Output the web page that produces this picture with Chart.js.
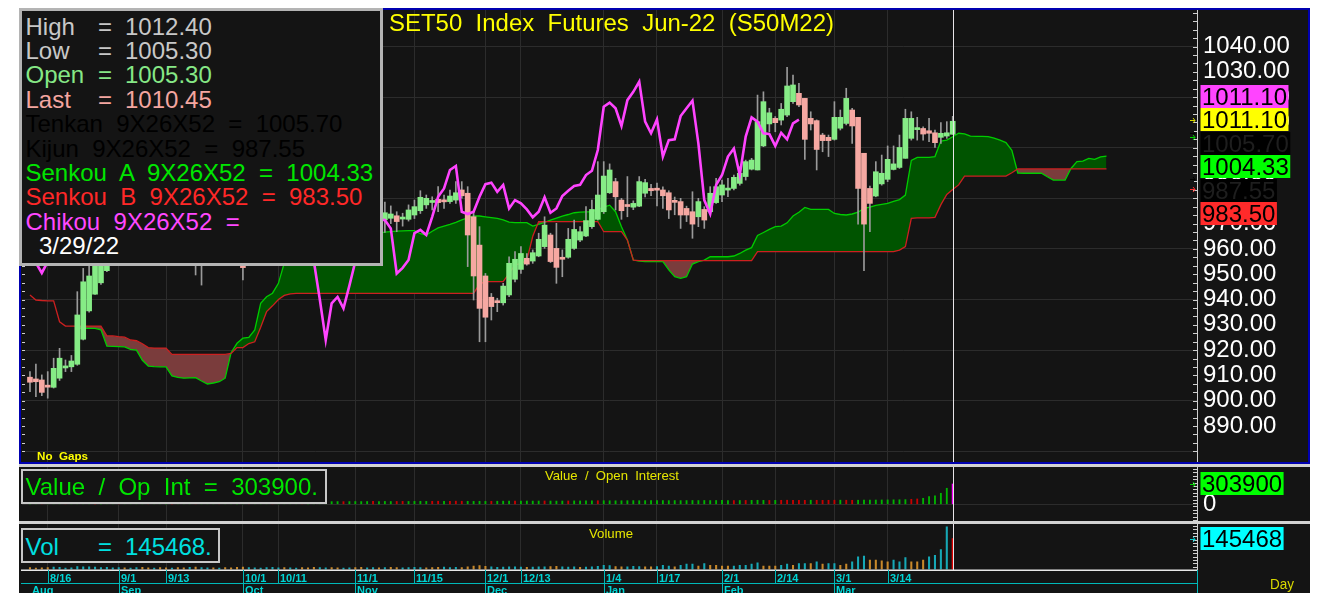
<!DOCTYPE html>
<html>
<head>
<meta charset="utf-8">
<title>SET50 Index Futures Jun-22 (S50M22)</title>
<script src="https://cdn.jsdelivr.net/npm/chart.js@4.4.1/dist/chart.umd.min.js"></script>
<style>
  html, body { margin:0; padding:0; width:1322px; height:593px; overflow:hidden; background:#ffffff; }
  #bg { position:absolute; left:19px; top:8px; width:1291px; height:585px; background:#141414; }
  canvas { position:absolute; left:0; }
  .ln { position:absolute; }
  .t { position:absolute; white-space:pre; line-height:1; font-family:'Liberation Sans', Arial, Helvetica, sans-serif; }
  .box { position:absolute; box-sizing:border-box; background:#141414; }
</style>
</head>
<body>
<div id="bg"></div>
<canvas id="cMain" width="1322" height="464" style="top:0px"></canvas>
<canvas id="cOI" width="1322" height="56" style="top:466px"></canvas>
<canvas id="cVol" width="1322" height="70" style="top:523px"></canvas>
<script>
// ---------------- DATA ----------------
// daily bars, index 0 = 10 Aug 2021 ... index 156 = 29 Mar 2022
const openP = [
 909.3,908.6,908.2,906.1,905.3,908.9,913.0,913.4,914.4,924.3,
 935.5,942.1,946.6,951.4,963,966,970,968,973,976,
 972,968,971,965,962,965,961,958,960,955,
 959,964,962,966,963,958,956,955,960,964,
 968,973,976,980,977,979,983,980,977,972,
 974,977,975,971,973,975,972,969,971,973,
 971.5,972.1,973.1,972.1,971.7,973.4,975.1,977.4,978.6,979.6,
 979.3,978.7,979.3,983.3,982.0,972.7,961.5,949.3,940.9,939.5,
 938.7,941.8,948.0,951.9,956.3,955.2,957.2,960.9,965.5,960.2,
 956.7,956.7,960.2,963.5,965.1,968.8,971.7,974.7,982.2,986.6,
 979.3,977.4,976.5,976.9,982.0,983.9,983.9,983.3,982.2,978.9,
 978.7,976.0,974.7,972.7,975.6,974.7,978.3,981.3,983.5,983.9,
 985.9,988.6,991.5,991.2,1000.7,1009.4,1011.6,1010.9,1012.9,1018.2,
 1021.5,1019.5,1011.6,1010.7,1005.0,1004.1,1003.3,1007.7,1009.6,1014.9,
 1012.0,997.8,983.9,980.9,985.7,987.5,991.4,992.2,995.8,1003.7,
 1007.4,1007.6,1006.7,1005.9,1004.1,1004.6,1005.3];
const highP = [
 911.5,914.5,910.2,911.5,916.8,920.7,916.1,917.9,943.1,952.3,
 955.0,958,962,966,968,972,974,975,978,979,
 975,973,974,969,967,968,965,962,963,961,
 966,968,967,970,965,962,960,961,966,970,
 975,978,982,984,981,985,986,983,980,976,
 979,981,978,975,977,979,975,973,975,976,
 978.5,977.0,974.7,974.1,977.4,979.3,983.0,981.3,980.6,984.6,
 981.3,983.3,986.6,986.6,984.6,974.7,968.8,950.3,942.4,940.5,
 946.4,956.9,958.9,960.9,958.2,959.6,966.2,972.7,966.2,970.1,
 959.6,968.1,971.4,968.8,976.7,979.3,994.5,994.5,993.6,987.9,
 980.0,988.6,979.0,988.6,987.5,985.5,986.0,984.5,983.0,980.5,
 980.0,976.9,982.6,980.0,976.7,984.6,987.9,987.2,987.9,989.2,
 992.5,995.1,995.8,1020.8,1022.1,1015.6,1012.3,1017.5,1031.8,1028.7,
 1025.4,1019.5,1014.2,1011.0,1005.7,1005.0,1018.2,1014.9,1023.5,1015.6,
 1012.0,997.8,984.8,994.5,997.1,1000.7,1000.7,1005.0,1015.2,1014.2,
 1012.0,1008.3,1011.6,1007.0,1009.9,1010.3,1012.4];
const lowP = [
 903.6,901.6,902.0,901.0,905.0,908.0,911.5,911.5,914.0,924.0,
 935.0,942.0,946.0,951.0,961,964,966,966,970,971,
 966,965,963,960,958,960,956,955,949.7,945.7,
 957,960,958,962,956,954,947.7,954,958,962,
 966,970,974,975,972,977,978,975,970,966,
 971,973,969,967,970,971,967,965,968,969,
 966.5,970.0,966.8,969.0,971.0,972.0,974.0,976.0,975.4,974.7,
 976.0,978.0,978.0,980.0,953.0,939.8,923.3,923.3,931.9,935.2,
 937.8,941.1,947.0,950.3,953.6,954.3,956.9,960.2,954.6,946.4,
 949.0,956.3,959.8,962.9,964.8,968.1,971.4,974.0,981.9,975.4,
 971.7,972.7,975.5,976.7,980.5,981.0,977.0,976.0,972.0,973.5,
 968.1,970.8,964.2,968.8,968.1,974.0,978.0,978.7,980.6,983.3,
 985.2,987.2,991.2,991.2,1000.4,1006.3,1006.3,1009.0,1012.3,1017.5,
 1016.2,995.4,1007.0,991.2,998.4,996.5,1003.0,1007.0,1009.0,1001.7,
 969.8,951.4,966.8,980.6,985.2,986.6,991.2,991.8,995.8,1003.0,
 1003.0,1003.0,1002.4,1000.1,1001.7,1003.7,1005.3];
const closeP = [
 907.3,907.5,903.3,905.4,912.8,916.8,913.7,915.7,933.9,947.0,
 949.3,956.0,960.0,963.0,966,970,968,973,976,972,
 968,971,965,962,965,961,958,960,955,959,
 964,962,966,963,958,957,952.6,960,964,968,
 973,976,980,977,979,983,980,977,972,974,
 977,975,971,973,975,972,969,971,973,971.5,
 974.3,973.8,970.8,972.3,975.4,976.7,980.4,980.0,978.9,978.3,
 978.7,980.9,982.2,981.0,965.5,949.3,936.5,933.0,937.2,938.8,
 945.3,954.3,955.9,958.2,954.0,958.5,963.8,969.4,955.0,952.7,
 955.9,963.8,967.7,966.8,971.2,975.6,981.3,988.8,991.2,980.6,
 975.1,976.9,978.0,986.6,986.2,983.0,983.3,981.0,975.4,978.7,
 973.4,973.4,969.8,978.7,971.4,982.0,984.6,985.3,983.8,988.3,
 989.9,994.5,995.1,1010.3,1018.2,1013.8,1009.9,1015.2,1024.4,1024.8,
 1016.9,1003.3,1009.4,999.3,1002.8,1002.8,1012.0,1012.0,1019.5,1008.6,
 983.9,969.8,978.0,990.5,989.9,995.4,993.6,1000.1,1011.6,1011.6,
 1007.7,1005.4,1005.7,1002.0,1005.7,1005.9,1010.45];

// Ichimoku Senkou span A / B (index 0..182, 26 bars projected forward)
const senkouA = [
 null,null,null,null,null,null,null,null,928.6,928.6,
 928.6,928.6,928.0,921.6,921.5,921.4,921.3,920.3,920.0,916.0,
 913.7,913.5,913.4,913.4,909.8,909.2,908.9,909.0,909.1,907.8,
 906.6,907.0,907.5,908.9,919.0,922.7,924.7,925.0,928.0,938.5,
 941.1,942.5,946.4,954.5,957,959,960,961,962,963,
 964,964.5,965,965.5,966,966,966,966,966,966.2,
 966.6,966.8,967.0,967.1,967.2,967.2,966.0,965.5,967.0,968.3,
 969.0,969.7,970.5,971.5,972.3,973.0,973.0,972.7,972.4,972.1,
 971.5,970.6,970.4,970.4,970.4,969.0,969.7,970.5,971.4,972.2,
 973.0,973.6,974.3,974.5,974.6,974.7,975.5,976.5,977.3,974.7,
 968.8,963.5,955.6,955.2,955.0,955.0,955.0,955.0,951.7,949.0,
 948.4,949.0,954.0,955.0,955.6,956.9,956.9,956.9,956.9,957.2,
 958.2,959.5,960.5,965.3,966.5,967.7,968.8,969.0,970.3,973.0,
 974.5,976.4,975.6,975.6,975.6,975.6,974.0,973.6,973.4,973.8,
 974.5,976.0,976.5,977.2,977.6,978.0,978.8,979.5,981.3,995.0,
 996.2,996.2,996.2,996.5,1002.6,1003.0,1004.33,1005.7,1005.5,1004.6,
 1004.5,1004.5,1004.4,1003.8,1003.0,1002.0,999.0,990.0,989.9,989.9,
 989.9,989.9,988.5,987.2,987.2,987.2,991.8,994.5,994.7,995.8,
 995.4,996.4,996.7];
const senkouB = [
 941.8,939.8,939.6,939.5,939.5,931.2,929.5,929.5,929.5,929.5,
 929.5,929.5,929.5,925.6,925.6,925.3,925.1,924.0,923.7,922.5,
 921.0,920.8,920.8,920.8,918.3,918.3,918.3,918.3,918.3,918.3,
 918.3,918.3,918.3,918.3,918.7,921.0,921.0,922.6,923.3,929.0,
 935.2,937.5,940.0,941.6,942.2,942.4,942.4,942.4,942.4,942.4,
 942.4,942.4,942.4,942.4,942.4,942.4,942.4,942.4,942.4,942.4,
 942.4,942.4,942.4,942.4,942.4,942.4,942.4,942.4,942.4,942.4,
 942.4,942.4,942.4,942.4,942.4,942.4,946.1,947.1,947.1,947.1,
 947.1,950.3,953.6,954.3,955.5,965.0,970.8,970.8,970.8,970.8,
 970.8,970.8,970.8,970.8,970.8,970.8,970.8,966.8,966.8,966.8,
 966.8,963.5,955.6,955.4,955.4,955.4,955.4,955.4,955.4,955.4,
 955.4,955.4,955.4,955.4,955.4,955.4,955.4,955.4,955.4,955.4,
 955.4,955.4,955.4,958.9,958.9,958.9,958.9,958.9,958.9,958.9,
 958.9,958.9,958.9,958.9,958.9,958.9,958.9,958.9,958.9,958.9,
 958.9,958.9,958.9,958.9,958.9,958.9,958.9,959.5,960.9,972.1,
 972.3,972.3,972.3,972.5,977.5,981.5,983.5,985.3,988.8,988.8,
 988.8,988.8,988.8,988.8,988.8,988.8,990.1,991.6,991.6,991.6,
 991.6,991.6,991.6,991.6,991.6,991.6,991.6,991.6,991.6,991.6,
 991.6,991.6,991.6];
// Chikou span (plotted 26 bars back, index 0..130)
const chikou = [
 957,954.5,950.5,955,958.5,962,966,963,958,957,
 956,960,964,968,973,976,980,977,979,983,
 980,977,972,974,977,975,971,973,975,972,
 969,971,973,971.5,974.3,973.8,970.8,972.3,975.4,976.7,
 980.4,980,978.9,978.3,978.7,980.9,975,966,955,940,
 924,938.5,941,936.5,945.5,955,962,966,969,971.5,
 971.4,968.1,950.3,952.5,955.6,966.2,967.5,965.5,972.7,980.6,
 983.9,991.2,992.8,974.7,973.8,974.7,980.6,985.6,986.2,982.6,
 985.3,976.0,979.3,978.0,975.6,972.5,974.7,980.4,974.3,976.0,
 980.9,983.0,984.9,985.3,989.2,990.9,999.1,1016.2,1017.8,1015.6,
 1008.6,1018.8,1022.1,1026.1,1010.3,1005.7,1011.2,996.5,1003.0,1003.3,
 1012.5,1015.6,1018.6,1001.7,979.3,973.8,985.3,989.2,996.5,999.7,
 989.2,1004.4,1012.0,1010.3,1005.7,1005.4,1000.7,1005.9,1003.3,1009.6,
 1011.1];
// Value / Open interest
const openInt = [
 30000,31000,31000,32000,32000,33000,33000,34000,34000,35000,
 35000,36000,36000,37000,37000,37000,38000,38000,38000,39000,
 39000,39000,40000,40000,40000,41000,41000,41000,42000,42000,
 42000,42000,43000,43000,43000,43000,44000,44000,44000,44000,
 45000,45000,45000,45000,45000,46000,46000,46000,46000,46000,
 40000,40000,41000,40000,41000,42000,41000,42000,43000,42000,
 43000,42000,43000,44000,43000,44000,45000,44000,45000,46000,
 45000,46000,47000,46000,45000,44000,45000,44000,45000,46000,
 47000,48000,47000,48000,49000,48000,49000,50000,49000,48000,
 49000,50000,51000,50000,51000,52000,53000,54000,53000,52000,
 53000,54000,55000,54000,55000,56000,55000,56000,55000,56000,
 55000,56000,57000,56000,57000,56000,57000,58000,57000,56000,
 57000,58000,59000,60000,59000,58000,59000,60000,61000,60000,
 59000,60000,61000,60000,59000,60000,61000,62000,61000,60000,
 61000,62000,63000,64000,65000,66000,67000,68000,70000,75000,
 80000,90000,115000,126000,165000,240000,303900];
const openIntUp = [
 1,1,0,1,1,1,0,1,1,1, 1,0,1,1,1,0,1,1,1,1, 0,1,1,1,0,1,1,1,0,1,
 1,1,0,1,1,1,1,0,1,1, 1,0,1,1,1,1,0,1,1,1,
 1,1,1,0,1,1,1,1,0,1, 1,1,0,0,1,1,1,1,0,0, 1,0,0,0,1,1,1,1,0,1,
 1,1,0,1,1,1,1,0,1,1, 1,0,1,1,1,1,0,1,1,1, 1,1,1,1,1,1,1,1,1,1,
 1,1,1,1,1,1,1,1,1,0, 1,0,1,1,1,0,1,0,0,0, 0,0,1,0,0,0,0,1,0,0,
 1,1,1,1,1,1,1,1,1,0, 0,1,1,1,1,1,1];
// Volume
const volume = [
 9000,7000,8000,9000,11000,10000,7000,8000,14000,13000,
 12000,11000,9000,10000,8000,9000,8000,7000,9000,10000,
 8000,7000,9000,8000,7000,9000,8000,10000,11000,9000,
 8000,8000,7000,9000,8000,10000,11000,9000,8000,7000,
 9000,10000,8000,9000,8000,7000,9000,8000,10000,9000,
 8000,9000,8000,7000,8000,9000,10000,8000,9000,8000,
 9000,10000,9000,8000,9000,10000,9000,8000,9000,10000,
 11000,9000,10000,9000,12000,16000,18000,15000,12000,10000,
 11000,13000,12000,11000,10000,11000,12000,13000,14000,15000,
 12000,11000,12000,10000,11000,13000,15000,20000,18000,14000,
 13000,12000,15000,14000,13000,12000,14000,20000,15600,12500,
 20000,25000,25000,15600,28000,20000,20000,15600,15600,15600,
 20000,20000,25000,31000,15600,15600,15600,20000,25000,20000,
 28000,28000,28000,36000,25000,28000,28000,20000,25000,36000,
 59000,63000,44000,44000,41000,36000,44000,36000,56000,36000,
 36000,44000,59000,67000,94000,200000,145468];
const volumeUp = [
 0,0,0,0,1,1,1,1,1,1, 1,1,1,1,1,1,0,1,1,0, 0,1,0,0,1,0,0,1,0,1,
 1,0,1,0,0,0,0,1,1,1, 1,1,1,0,1,1,0,0,0,1, 1,0,0,1,1,0,0,1,1,0,
 1,0,0,1,1,1,1,0,0,0, 1,1,1,0,0,0,0,0,1,1, 1,1,1,1,0,1,1,1,0,0,
 1,1,1,0,1,1,1,1,1,0, 0,1,1,1,0,0,1,1,1,0, 1,1,1,0,1,0,0,0,0,1,
 1,1,1,1,0,0,0,1,1,0, 1,1,0,1,0,1,1,0,0,1, 1,1,0,0,0,0,1,1,1,0,
 0,0,1,1,1,1,0];

// date axis (bar index of each labelled trading day)
const dayTicks  = [3, 15, 23, 36, 42, 55, 65, 77, 83, 97, 106, 117, 126, 136, 145];
const dayLabels = ['8/16','9/1','9/13','10/1','10/11','11/1','11/15','12/1','12/13','1/4','1/17','2/1','2/14','3/1','3/14'];
const monthTicks  = [0, 15, 36, 55, 77, 97, 117, 136];
const monthLabels = ['Aug','Sep','Oct','Nov','Dec','Jan','Feb','Mar'];
const cursorIdx = 156;

// right-axis price flags (chikou, last, tenkan, senkou A, kijun, senkou B)
const flagValues = [1011.10, 1011.10, 1005.70, 1004.33, 987.55, 983.50];
const flagLabels = ['1011.10', '1011.10', '1005.70', '1004.33', '987.55', '983.50'];
const yTickValues = [880,890,900,910,920,930,940,950,960,970,980,990,1000,1010,1020,1030,1040];

// ---------------- STYLE / LAYOUT ----------------
const FONT = "'Liberation Sans', Arial, Helvetica, sans-serif";
Chart.defaults.font.family = FONT;
const X_MIN = -1.35, X_MAX = 197.3;
const UP = '#86ec86', DOWN = '#f6a8a2', WICK = '#9a9a9a';
const GRID = '#2c2c2c';
const OI_PX = 303900 / 20.3, VOL_PX = 145468 / 31;

function noPad(s) { s.paddingTop = 0; s.paddingBottom = 0; s.paddingLeft = 0; s.paddingRight = 0; }
function xScaleOpts() {
  return {
    type: 'linear', min: X_MIN, max: X_MAX, offset: false, bounds: 'data',
    afterBuildTicks: s => { s.ticks = dayTicks.map(v => ({ value: v })); },
    ticks: { display: false },
    border: { display: false },
    grid: { color: GRID, lineWidth: 1, drawTicks: false, offset: false },
    afterFit: s => { s.height = 0; noPad(s); }
  };
}
function drawCursor(chart) {
  const { ctx, chartArea: a, scales: { x } } = chart;
  const cx = Math.round(x.getPixelForValue(cursorIdx)) + 0.5;
  ctx.save();
  ctx.strokeStyle = '#e8e4e8'; ctx.lineWidth = 1;
  ctx.beginPath(); ctx.moveTo(cx, a.top - 2); ctx.lineTo(cx, a.bottom + 1); ctx.stroke();
  ctx.restore();
}
function drawArrow(ctx, x, y, color) {
  ctx.strokeStyle = color; ctx.lineWidth = 1;
  ctx.beginPath();
  ctx.moveTo(x - 5, y + 0.5); ctx.lineTo(x, y + 0.5);
  ctx.moveTo(x - 2, y - 2); ctx.lineTo(x, y + 0.5); ctx.lineTo(x - 2, y + 3);
  ctx.stroke();
}
function drawFlag(ctx, text, left, cy, bg, fg) {
  ctx.font = '24px ' + FONT;
  const w = ctx.measureText(text).width + 3;
  const h = 23;
  const top = Math.round(cy - h / 2);
  ctx.fillStyle = bg; ctx.fillRect(left, top, w, h);
  ctx.fillStyle = fg; ctx.textBaseline = 'alphabetic'; ctx.textAlign = 'left';
  ctx.fillText(text, left + 1.5, top + 20);
}
function rightTicks(ctx, a, step) {
  ctx.strokeStyle = '#cfcfcf'; ctx.lineWidth = 1;
  for (let py = a.top + 2; py < a.bottom; py += step) {
    const yy = Math.round(py) + 0.5;
    ctx.beginPath(); ctx.moveTo(a.right - 4, yy); ctx.lineTo(a.right, yy); ctx.stroke();
  }
}

// ---------------- MAIN PRICE CHART ----------------
const idx = openP.map((_, i) => i);
const wickData = idx.map(i => ({ x: i, y: [lowP[i], highP[i]] }));
const bodyData = idx.map(i => {
  let a = Math.min(openP[i], closeP[i]), b = Math.max(openP[i], closeP[i]);
  if (b - a < 0.8) { const m = (a + b) / 2; a = m - 0.4; b = m + 0.4; }
  return { x: i, y: [a, b] };
});
const bodyColors = idx.map(i => (closeP[i] >= openP[i] ? UP : DOWN));

const mainPlugin = {
  id: 'mainDeco',
  afterDatasetsDraw(chart) { drawCursor(chart); },
  afterDraw(chart) {
    const { ctx, chartArea: a, scales: { y } } = chart;
    ctx.save();
    ctx.strokeStyle = '#d0d0d0'; ctx.lineWidth = 1;
    for (let v = 880; v <= 1054; v += 10 / 3) {
      const py = Math.round(y.getPixelForValue(v)) + 0.5;
      ctx.beginPath();
      ctx.moveTo(a.right - 4, py); ctx.lineTo(a.right, py);
      ctx.moveTo(a.left, py); ctx.lineTo(a.left + 3, py);
      ctx.stroke();
    }
    const styles = [['#ff44ff', '#000'], ['#ffff00', '#000'], ['#000000', '#1e1e1e'],
                    ['#00ff00', '#000'], ['#000000', '#1e1e1e'], ['#ff2a2a', '#000']];
    const arrows = [null, '#d8d800', '#000000', '#00d000', '#000000', '#ff3030'];
    const H = 23.5, anchor = 1;
    const ys = flagValues.map(v => y.getPixelForValue(v));
    const pos = ys.slice();
    for (let j = anchor - 1; j >= 0; j--) pos[j] = Math.min(ys[j], pos[j + 1] - H);
    for (let j = anchor + 1; j < pos.length; j++) pos[j] = Math.max(ys[j], pos[j - 1] + H);
    for (let j = 0; j < pos.length; j++) {
      drawFlag(ctx, flagLabels[j], 1200.5, pos[j], styles[j][0], styles[j][1]);
      if (arrows[j]) drawArrow(ctx, 1195, Math.round(ys[j]), arrows[j]);
    }
    ctx.restore();
  }
};

new Chart(document.getElementById('cMain'), {
  type: 'bar',
  data: {
    datasets: [
      { type: 'line', label: 'Senkou A', data: senkouA.map((v, i) => ({ x: i, y: v })),
        borderColor: '#00cc00', borderWidth: 1.3, pointRadius: 0, tension: 0, spanGaps: false,
        fill: { target: 1, above: '#005400', below: '#7a3c3c' }, order: 5 },
      { type: 'line', label: 'Senkou B', data: senkouB.map((v, i) => ({ x: i, y: v })),
        borderColor: '#cc2020', borderWidth: 1.3, pointRadius: 0, tension: 0, fill: false, order: 4 },
      { type: 'bar', label: 'wick', data: wickData, backgroundColor: WICK,
        barThickness: 1, grouped: false, order: 3 },
      { type: 'bar', label: 'body', data: bodyData, backgroundColor: bodyColors,
        barThickness: 5, grouped: false, order: 2 },
      { type: 'line', label: 'Chikou', data: chikou.map((v, k) => ({ x: k, y: v })),
        borderColor: '#ff44ff', borderWidth: 2.6, pointRadius: 0, tension: 0, fill: false, order: 1 }
    ]
  },
  options: {
    responsive: false, animation: false, devicePixelRatio: 1, events: [],
    layout: { padding: { left: 22, right: 0, top: 10, bottom: 1 } },
    plugins: { legend: { display: false }, tooltip: { enabled: false } },
    scales: {
      x: xScaleOpts(),
      y: {
        position: 'right', min: 875.38, max: 1054.43, bounds: 'data',
        afterBuildTicks: s => { s.ticks = yTickValues.map(v => ({ value: v })); },
        ticks: { color: '#ffffff', font: { size: 24 }, padding: 6, autoSkip: false,
                 callback: v => (v >= 890 ? Number(v).toFixed(2) : '') },
        grid: { color: c => (c.tick && c.tick.value % 20 === 0 ? GRID : 'rgba(0,0,0,0)'), drawTicks: false },
        border: { display: true, color: '#cfcfcf', width: 1 },
        afterFit: s => { s.width = 125; noPad(s); }
      }
    }
  },
  plugins: [mainPlugin]
});

// ---------------- VALUE / OPEN INTEREST ----------------
const oiPlugin = {
  id: 'oiDeco',
  afterDraw(chart) {
    drawCursor(chart);
    const { ctx, chartArea: a, scales: { y } } = chart;
    ctx.save();
    rightTicks(ctx, a, 3.4);
    const last = openInt[cursorIdx];
    const py = y.getPixelForValue(last);
    drawFlag(ctx, String(last), 1200.5, py, '#00ff00', '#000');
    drawArrow(ctx, 1195, Math.round(py), '#00d000');
    ctx.restore();
  }
};
new Chart(document.getElementById('cOI'), {
  type: 'bar',
  data: { datasets: [{ label: 'Open Interest', data: openInt.map((v, i) => ({ x: i, y: v })),
    backgroundColor: openInt.map((v, i) => (i === cursorIdx ? '#ff00ff' : (openIntUp[i] ? '#00b400' : '#c80000'))),
    barThickness: 1.2, grouped: false }] },
  options: {
    responsive: false, animation: false, devicePixelRatio: 1, events: [],
    layout: { padding: { left: 22, right: 0, top: 1, bottom: 1 } },
    plugins: { legend: { display: false }, tooltip: { enabled: false } },
    scales: {
      x: xScaleOpts(),
      y: {
        position: 'right', min: -16.7 * OI_PX, max: 37.3 * OI_PX, bounds: 'data',
        afterBuildTicks: s => { s.ticks = [{ value: 0 }]; },
        ticks: { color: '#ffffff', font: { size: 24 }, padding: 6, autoSkip: false, callback: () => '0' },
        grid: { color: GRID, drawTicks: false },
        border: { display: true, color: '#cfcfcf', width: 1 },
        afterFit: s => { s.width = 125; noPad(s); }
      }
    }
  },
  plugins: [oiPlugin]
});

// ---------------- VOLUME + DATE AXIS ----------------
const volPlugin = {
  id: 'volDeco',
  afterDraw(chart) {
    drawCursor(chart);
    const { ctx, chartArea: a, scales: { x, y } } = chart;
    ctx.save();
    rightTicks(ctx, a, 3.4);
    const last = volume[cursorIdx];
    const py = y.getPixelForValue(last);
    drawFlag(ctx, String(last), 1200.5, py, '#00ffff', '#000');
    drawArrow(ctx, 1195, Math.round(py), '#00d0d0');
    const y0 = 47;
    ctx.fillStyle = '#e8e8e8'; ctx.fillRect(21, y0 - 0.5, a.right - 21, 1.5);
    ctx.fillStyle = '#00b8b8'; ctx.fillRect(21, 60, a.right - 21, 1);
    ctx.fillRect(a.right, y0, 1, 23);
    ctx.font = 'bold 11px ' + FONT; ctx.textBaseline = 'alphabetic'; ctx.textAlign = 'left';
    dayTicks.forEach((t, i) => {
      const px = Math.round(x.getPixelForValue(t));
      ctx.fillStyle = '#00b8b8'; ctx.fillRect(px, y0, 1, 13);
      ctx.fillStyle = '#00d4d4'; ctx.fillText(dayLabels[i], px + 2, 58.5);
    });
    monthTicks.forEach((t, i) => {
      const px = Math.round(x.getPixelForValue(t));
      if (t > 0) { ctx.fillStyle = '#00b8b8'; ctx.fillRect(px, 61, 1, 10); }
      ctx.fillStyle = '#00d4d4'; ctx.fillText(monthLabels[i], px + 2, 71);
    });
    ctx.restore();
  }
};
new Chart(document.getElementById('cVol'), {
  type: 'bar',
  data: { datasets: [{ label: 'Volume', data: volume.map((v, i) => ({ x: i, y: v })),
    backgroundColor: volume.map((v, i) => (i === cursorIdx ? '#e00000' : (volumeUp[i] ? '#16a8b6' : '#c8882a'))),
    barThickness: 1.4, grouped: false }] },
  options: {
    responsive: false, animation: false, devicePixelRatio: 1, events: [],
    layout: { padding: { left: 22, right: 0, top: 1, bottom: 23.5 } },
    plugins: { legend: { display: false }, tooltip: { enabled: false } },
    scales: {
      x: xScaleOpts(),
      y: {
        position: 'right', min: 0, max: 45.5 * VOL_PX, bounds: 'data',
        afterBuildTicks: s => { s.ticks = []; },
        ticks: { display: false },
        grid: { display: false },
        border: { display: true, color: '#cfcfcf', width: 1 },
        afterFit: s => { s.width = 125; noPad(s); }
      }
    }
  },
  plugins: [volPlugin]
});

// ---------------- OVERLAYS (frames, text boxes) ----------------
function rect(x, y, w, h, color, z) {
  const d = document.createElement('div');
  d.className = 'ln';
  Object.assign(d.style, { left: x + 'px', top: y + 'px', width: w + 'px', height: h + 'px', background: color, zIndex: z || 3 });
  document.body.appendChild(d); return d;
}
function box(x, y, w, h, border) {
  const d = document.createElement('div');
  d.className = 'box';
  Object.assign(d.style, { left: x + 'px', top: y + 'px', width: w + 'px', height: h + 'px', border: border, zIndex: 4 });
  document.body.appendChild(d); return d;
}
function text(str, x, baseline, size, color, opt) {
  opt = opt || {};
  const d = document.createElement('div');
  d.className = 't'; d.textContent = str;
  Object.assign(d.style, { left: x + 'px', top: (baseline - 0.8465 * size) + 'px', fontSize: size + 'px', color: color, zIndex: 5 });
  if (opt.weight) d.style.fontWeight = opt.weight;
  document.body.appendChild(d);
  if (opt.width) {
    const w = d.getBoundingClientRect().width;
    d.style.transformOrigin = '0 0';
    d.style.transform = 'scaleX(' + (opt.width / w) + ')';
  }
  return d;
}
rect(19, 8, 1291, 2, '#0000b0');
rect(1308, 8, 2, 456, '#0000b0');
rect(19, 462, 1291, 2, '#0000b0');
rect(19, 8, 2, 456, '#0000b0');
rect(19, 464, 1291, 3, '#d2d2d2');
rect(19, 521, 1291, 3, '#d2d2d2');

text('SET50  Index  Futures  Jun-22  (S50M22)', 389, 31.5, 23, '#ffff00', { width: 445 });
text('No  Gaps', 37, 460.5, 11.5, '#ffff00', { weight: 'bold', width: 51 });
text('Value  /  Open  Interest', 545, 480, 13, '#e6e600', { width: 134 });
text('Volume', 589, 538.5, 13, '#e6e600', { width: 44 });
text('Day', 1270, 589, 14, '#d8d800', { width: 24 });

box(19, 8, 364, 258, '3px solid #b4b4b4');
const L0 = 35, LS = 24.4;
const infoRows = [
  ['High', '1012.40', '#c8c8c8'],
  ['Low', '1005.30', '#c8c8c8'],
  ['Open', '1005.30', '#86e886'],
  ['Last', '1010.45', '#f4a6a0']
];
infoRows.forEach((r, i) => {
  text(r[0], 25.5, L0 + LS * i, 24, r[2]);
  text('=', 98, L0 + LS * i, 24, r[2]);
  text(r[1], 125, L0 + LS * i, 24, r[2]);
});
text('Tenkan  9X26X52  =  1005.70', 25.5, L0 + LS * 4, 24, '#000000');
text('Kijun  9X26X52  =  987.55', 25.5, L0 + LS * 5, 24, '#000000');
text('Senkou  A  9X26X52  =  1004.33', 25.5, L0 + LS * 6, 24, '#00e600');
text('Senkou  B  9X26X52  =  983.50', 25.5, L0 + LS * 7, 24, '#ff2828');
text('Chikou  9X26X52  =', 25.5, L0 + LS * 8, 24, '#ff48ff');
text('3/29/22', 39, L0 + LS * 9, 24, '#ffffff');

box(21, 469, 306, 35, '2px solid #c8c8c8');
text('Value  /  Op  Int  =  303900.', 25.5, 495, 24, '#00e600');
box(21, 528, 199, 35, '2px solid #c8c8c8');
text('Vol', 25.5, 555, 24, '#00e0e0');
text('=', 98, 555, 24, '#00e0e0');
text('145468.', 125, 555, 24, '#00e0e0');
</script>
</body>
</html>
